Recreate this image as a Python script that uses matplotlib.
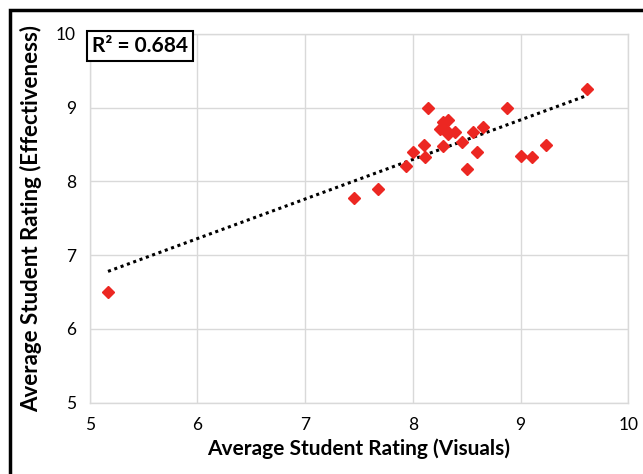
import numpy as np
import matplotlib
matplotlib.use("Agg")
import matplotlib.pyplot as plt
from matplotlib.patches import Rectangle

visuals = [9.62, 8.14, 8.87, 8.33, 8.28, 8.25, 8.31, 8.33, 8.39, 8.65, 8.56, 8.10,
           8.28, 8.46, 9.24, 8.00, 8.60, 8.11, 9.00, 9.11, 8.50, 7.94, 7.68, 7.45, 5.17]
effectiveness = [9.25, 9.00, 9.00, 8.84, 8.81, 8.71, 8.70, 8.64, 8.67, 8.74, 8.67, 8.50,
                 8.48, 8.54, 8.50, 8.40, 8.40, 8.33, 8.35, 8.33, 8.17, 8.21, 7.90, 7.78, 6.50]
x_ticks = [5, 6, 7, 8, 9, 10]
y_ticks = [5, 6, 7, 8, 9, 10]
r2_label = "R² = 0.684"

plt.rcParams['font.family'] = ['Lato', 'DejaVu Sans']

fig = plt.figure(figsize=(6.43, 4.74), dpi=100)
ax = fig.add_axes([0.1395, 0.1504, 0.9771 - 0.1395, 0.9283 - 0.1504])

x = np.array(visuals)
y = np.array(effectiveness)
m, b = np.polyfit(x, y, 1)
xs = np.array([x.min(), x.max()])
ax.plot(xs, m * xs + b, color='black', linestyle=(0, (1, 1.2)), lw=2.2, zorder=2)
ax.plot(x, y, linestyle='none', marker='D', ms=6, color='#ec2722', zorder=3)

ax.set_xlim(5, 10)
ax.set_ylim(5, 10)
ax.set_xticks(x_ticks)
ax.set_yticks(y_ticks)
ax.tick_params(length=0, labelsize=12.5, pad=10)
ax.grid(True, color='#d9d9d9', lw=1)
ax.set_axisbelow(True)
for s in ax.spines.values():
    s.set_color('#d9d9d9')
    s.set_linewidth(1)

ax.set_xlabel("Average Student Rating (Visuals)", fontsize=15, fontweight='bold', labelpad=4)
ax.set_ylabel("Average Student Rating (Effectiveness)", fontsize=16, fontweight='bold', labelpad=10)

ax.text(0.004, 0.995, r2_label, transform=ax.transAxes, ha='left', va='top',
        fontsize=15, fontweight='bold',
        bbox=dict(boxstyle='square,pad=0.25', fc='white', ec='black', lw=1.5))

fig.add_artist(Rectangle((10 / 643, -0.1), 1.2, (1 - 10 / 474) + 0.1,
                         transform=fig.transFigure, fill=False, ec='black', lw=2.5))

fig.savefig("out.png", dpi=100)
